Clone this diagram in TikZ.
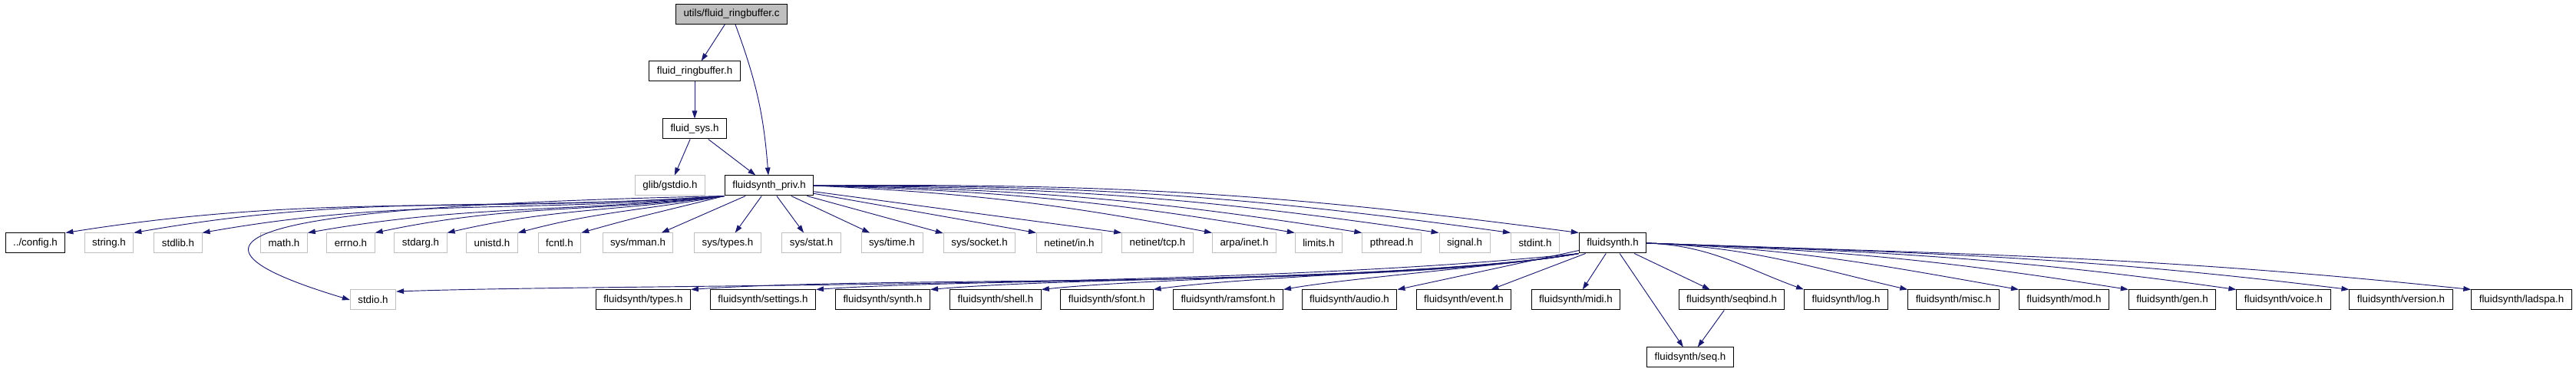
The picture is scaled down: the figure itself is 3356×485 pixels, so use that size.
\documentclass[tikz,border=0pt]{standalone}
\usepackage{fontspec}
\setmainfont{Liberation Sans}
\usepackage{xcolor}
\usepackage{tikz}
\usetikzlibrary{arrows.meta}

\definecolor{edgeblue}{HTML}{191970}
\definecolor{sysgray}{HTML}{BFBFBF}
\tikzset{
    hfile/.style={draw=black,fill=white,line width=0.75pt,inner xsep=7.5pt,inner ysep=0pt,minimum height=19.5pt},
    sysfile/.style={hfile,draw=sysgray},
    rootfile/.style={hfile,fill=sysgray},
    incl/.style={draw=edgeblue,line width=0.7pt,-{Triangle[length=7.5pt,width=5pt]}}
}

\begin{document}
\begin{tikzpicture}[x=0.75pt,y=0.75pt]
        \useasboundingbox (0,0) rectangle (3356,485);
        \node[rootfile] (root) at (953,466.5) {utils/fluid\_ringbuffer.c};
        \node[hfile] (rb) at (905,392) {fluid\_ringbuffer.h};
        \node[hfile] (sys) at (905,317) {fluid\_sys.h};
        \node[sysfile] (glib) at (873,243) {glib/gstdio.h};
        \node[hfile] (priv) at (1002,243) {fluidsynth\_priv.h};
        % headers of fluidsynth_priv.h
        \foreach \n/\x/\st/\lbl in {cfg/46/hfile/{../config.h}, string/142/sysfile/{string.h}, stdlib/232/sysfile/{stdlib.h},
            math/370/sysfile/{math.h}, errno/457/sysfile/{errno.h}, stdarg/548/sysfile/{stdarg.h}, unistd/641/sysfile/{unistd.h},
            fcntl/729/sysfile/{fcntl.h}, mman/831/sysfile/{sys/mman.h}, systypes/948/sysfile/{sys/types.h}, sysstat/1057/sysfile/{sys/stat.h},
            systime/1162/sysfile/{sys/time.h}, socket/1276/sysfile/{sys/socket.h}, netin/1393/sysfile/{netinet/in.h},
            nettcp/1508/sysfile/{netinet/tcp.h}, arpa/1621/sysfile/{arpa/inet.h}, limits/1718/sysfile/{limits.h},
            pthread/1813/sysfile/{pthread.h}, signal/1908/sysfile/{signal.h}, stdint/2000/sysfile/{stdint.h}, fsynth/2101/hfile/{fluidsynth.h}}
            {\node[\st] (\n) at (\x,168) {\lbl};}
        % headers of fluidsynth.h
        \node[sysfile] (stdio) at (486,94) {stdio.h};
        \foreach \n/\x/\lbl in {ftypes/838/types, settings/994/settings, synth/1150/synth, shell/1297/shell, sfont/1442/sfont,
            ramsfont/1600/ramsfont, audio/1758/audio, event/1907/event, midi/2053/midi, seqbind/2256/seqbind, log/2405/log,
            misc/2545/misc, mod/2689/mod, gen/2830/gen, voice/2975/voice, version/3128/version, ladspa/3285/ladspa}
            {\node[hfile] (\n) at (\x,94) {fluidsynth/\lbl.h};}
        \node[hfile] (seq) at (2202,19) {fluidsynth/seq.h};

        \draw[incl] (root) -- (rb);
        \draw[incl] (root) to[bend left=8] (priv);
        \draw[incl] (rb) -- (sys);
        \draw[incl] (sys) -- (glib);
        \draw[incl] (sys) -- (priv);
        \foreach \n/\o/\i in {cfg/184/9, string/184/10, stdlib/185/10, math/186/10, errno/187/12, stdarg/188/13, unistd/190/15, fcntl/194/16}
            {\draw[incl] (priv.south west) to[out=\o,in=\i] (\n.north east);}
        \draw[incl] (priv.south west) .. controls +(-540,-12) and +(-300,90) .. (stdio.west);
        \foreach \n in {mman,systypes,sysstat,systime,socket} {\draw[incl] (priv) -- (\n);}
        \foreach \n in {netin,nettcp} {\draw[incl] (priv) -- (\n.north west);}
        \foreach \n in {arpa,limits,pthread,signal,stdint,fsynth} {\draw[incl] (priv.east) to[bend left=4] (\n.north west);}

        \draw[incl] (fsynth.south west) .. controls +(186:450) and +(2:300) .. (stdio.20);
        \foreach \n/\i/\l in {ftypes/4/272, settings/4/234, synth/5/199, shell/6/165, sfont/8/130, ramsfont/10/91}
            {\draw[incl] (fsynth.south west) .. controls +(190:\l) and +(\i:\l) .. (\n.north east);}
        \foreach \n in {audio,event,midi,seqbind,seq} {\draw[incl] (fsynth) -- (\n);}
        \draw[incl] (seqbind) -- (seq);
        \foreach \n/\i/\l in {log/160/83, misc/167/134, mod/170/191, gen/171/246, voice/172/301, version/173/359, ladspa/174/421}
            {\draw[incl] (fsynth.east) .. controls +(-2:\l) and +(\i:\l) .. (\n.north west);}
    \end{tikzpicture}
\end{document}
